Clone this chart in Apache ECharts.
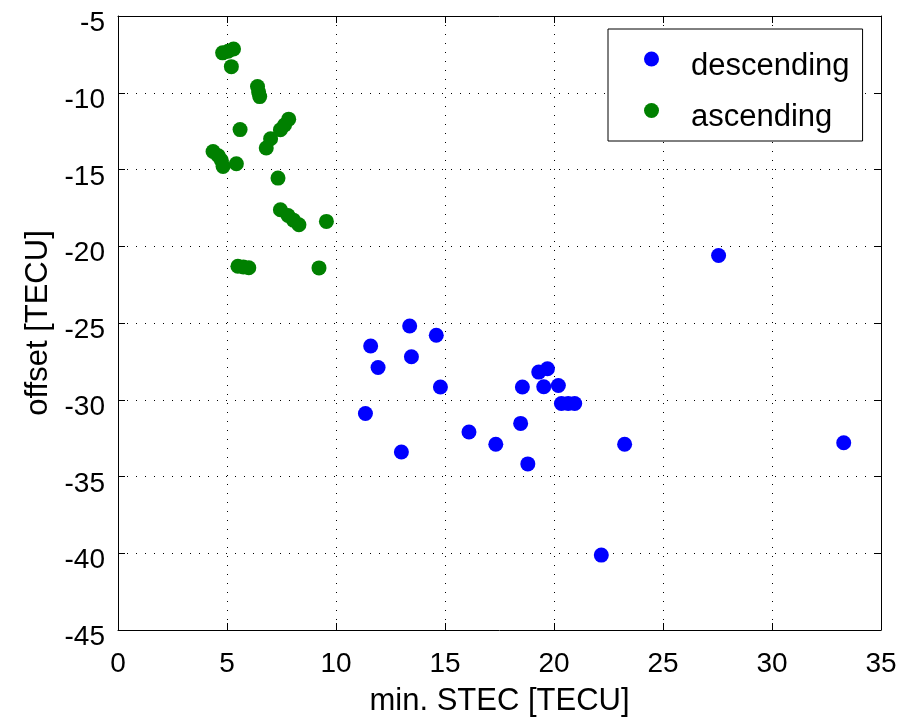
<!DOCTYPE html>
<html>
<head>
<meta charset="utf-8">
<script src="https://cdn.jsdelivr.net/npm/echarts@6/dist/echarts.min.js"></script>
<style>html,body{margin:0;padding:0;background:#fff}#c{width:900px;height:722px}</style>
</head>
<body>
<div id="c"></div>
<script>
// Data
const descX = [13.38, 14.6, 11.59, 13.46, 11.93, 14.79, 18.55, 19.3, 19.7, 19.53, 20.2, 20.34, 20.65, 20.95, 11.35, 18.47, 16.1, 17.33, 23.24, 13.0, 18.8, 27.55, 33.29, 22.17];
const descY = [-25.2, -25.8, -26.5, -27.2, -27.9, -29.17, -29.17, -28.2, -27.98, -29.15, -29.07, -30.24, -30.24, -30.24, -30.9, -31.54, -32.1, -32.9, -32.9, -33.4, -34.18, -20.6, -32.8, -40.12];
const ascX = [4.8, 5.05, 5.3, 5.2, 6.4, 6.45, 6.5, 5.6, 7.83, 7.64, 7.45, 7.0, 6.8, 4.36, 4.6, 4.74, 4.82, 5.43, 7.34, 7.45, 7.8, 8.05, 8.3, 9.56, 5.5, 5.75, 6.0, 9.22];
const ascY = [-7.4, -7.3, -7.15, -8.3, -9.6, -9.95, -10.25, -12.4, -11.72, -12.1, -12.41, -13.0, -13.6, -13.83, -14.1, -14.4, -14.8, -14.63, -15.56, -17.62, -18.0, -18.3, -18.6, -18.38, -21.3, -21.35, -21.4, -21.41];
const seriesNames = ['descending', 'ascending'];
const xTicks = {min: 0, max: 35, step: 5};
const yTicks = {min: -45, max: -5, step: 5};

const FONT = '"Liberation Sans", Arial, Helvetica, sans-serif';
const zip = (xs, ys) => xs.map((x, i) => [x, ys[i]]);

const chart = echarts.init(document.getElementById('c'), null, {renderer: 'canvas'});
const gridLine = {show: true, lineStyle: {color: '#000', width: 1, type: [1, 8]}};
const axLine = {show: true, onZero: false, lineStyle: {color: '#000', width: 1}};
const tick = {show: true, inside: true, length: 7, lineStyle: {color: '#000'}};

chart.setOption({
  animation: false,
  backgroundColor: '#fff',
  grid: {left: 118, right: 19, top: 16, bottom: 91, containLabel: false},
  legend: {
    orient: 'vertical',
    left: 608, top: 29,
    padding: [10, 13, 8, 36],
    itemGap: 9,
    itemWidth: 15, itemHeight: 15,
    icon: 'circle',
    backgroundColor: '#fff',
    borderColor: '#000', borderWidth: 1,
    formatter: '{s| }\n{n|{name}}',
    textStyle: {
      fontFamily: FONT, fontSize: 31, color: '#000', padding: [0, 0, 0, 27],
      rich: {
        s: {fontSize: 10, lineHeight: 14, fontFamily: FONT},
        n: {fontSize: 31, lineHeight: 30, fontFamily: FONT, color: '#000'}
      }
    },
    data: seriesNames
  },
  xAxis: [{
    type: 'value', min: xTicks.min, max: xTicks.max, interval: xTicks.step,
    position: 'bottom',
    axisLine: axLine, axisTick: tick, splitLine: gridLine,
    axisLabel: {fontFamily: FONT, fontSize: 28, color: '#000', margin: 20},
    name: 'min. STEC [TECU]', nameLocation: 'middle', nameGap: 56,
    nameTextStyle: {fontFamily: FONT, fontSize: 31, color: '#000'}
  }, {
    type: 'value', min: xTicks.min, max: xTicks.max, interval: xTicks.step,
    position: 'top',
    axisLine: axLine, axisTick: tick, splitLine: {show: false}, axisLabel: {show: false}
  }],
  yAxis: [{
    type: 'value', min: yTicks.min, max: yTicks.max, interval: yTicks.step,
    position: 'left',
    axisLine: axLine, axisTick: tick, splitLine: gridLine,
    axisLabel: {fontFamily: FONT, fontSize: 28, color: '#000', margin: 13, verticalAlign: 'top', lineHeight: 15},
    name: 'offset [TECU]', nameLocation: 'middle', nameGap: 64,
    nameTextStyle: {fontFamily: FONT, fontSize: 31, color: '#000'}
  }, {
    type: 'value', min: yTicks.min, max: yTicks.max, interval: yTicks.step,
    position: 'right',
    axisLine: axLine, axisTick: tick, splitLine: {show: false}, axisLabel: {show: false}
  }],
  series: [{
    name: seriesNames[0], type: 'scatter', xAxisIndex: 0, yAxisIndex: 0,
    symbol: 'circle', symbolSize: 15,
    itemStyle: {color: '#0000ff', opacity: 1},
    data: zip(descX, descY)
  }, {
    name: seriesNames[1], type: 'scatter', xAxisIndex: 0, yAxisIndex: 0,
    symbol: 'circle', symbolSize: 15,
    itemStyle: {color: '#008000', opacity: 1},
    data: zip(ascX, ascY)
  }]
});
</script>
</body>
</html>
